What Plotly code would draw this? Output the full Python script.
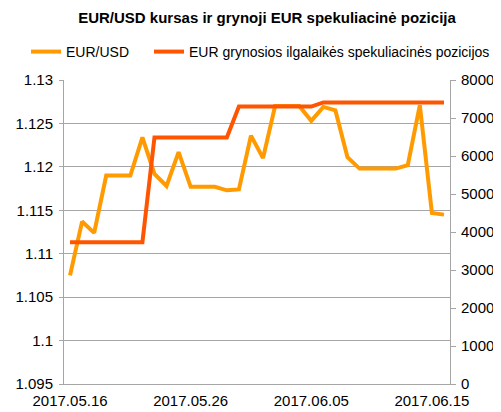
import plotly.graph_objects as go
import pandas as pd

dates = pd.date_range("2017-05-16", "2017-06-16", freq="D").strftime("%Y-%m-%d").tolist()

eurusd = [1.1075, 1.1137, 1.1124, 1.1190, 1.1190, 1.1190, 1.1234, 1.1192,
          1.1178, 1.1217, 1.1177, 1.1177, 1.1177, 1.1173, 1.1174, 1.1236,
          1.1210, 1.1270, 1.1270, 1.1270, 1.1253, 1.1269, 1.1265, 1.1211,
          1.1198, 1.1198, 1.1198, 1.1198, 1.1202, 1.1271, 1.1147, 1.1145]

positions = [37300] * 7 + [64900] * 7 + [73000] * 7 + [74100] * 11

left_ticks = [1.095, 1.1, 1.105, 1.11, 1.115, 1.12, 1.125, 1.13]
left_labels = ["1.095", "1.1", "1.105", "1.11", "1.115", "1.12", "1.125", "1.13"]
x_ticks = ["2017-05-16", "2017-05-26", "2017-06-05", "2017-06-15"]
x_labels = ["2017.05.16", "2017.05.26", "2017.06.05", "2017.06.15"]

font = "Liberation Sans, Arial, sans-serif"
grey = "#A6A6A6"

fig = go.Figure()
fig.add_trace(go.Scatter(x=dates, y=eurusd, name="EUR/USD", mode="lines",
                         line=dict(color="#FF9A00", width=4), legend="legend"))
fig.add_trace(go.Scatter(x=dates, y=positions, name="EUR grynosios ilgalaikės spekuliacinės pozicijos",
                         mode="lines", yaxis="y2", legend="legend2",
                         line=dict(color="#FF5500", width=4)))

leg_common = dict(xref="container", yref="container", xanchor="left",
                  y=1-44/412, yanchor="middle", font=dict(size=14, family=font),
                  itemwidth=30, bgcolor="rgba(0,0,0,0)", borderwidth=0)

fig.update_layout(
    width=501, height=412,
    margin=dict(l=56, r=59, t=72, b=36, autoexpand=False),
    paper_bgcolor="white", plot_bgcolor="white",
    font=dict(family=font, size=15, color="#000000"),
    title=dict(text="<b>EUR/USD kursas ir grynoji EUR spekuliacinė pozicija</b>",
               x=259/501, xanchor="center", y=1-10/412, yanchor="middle",
               font=dict(size=15, family=font)),
    showlegend=True,
    legend=dict(x=18/501, **leg_common),
    legend2=dict(x=141/501, **leg_common),
    xaxis=dict(type="date", range=["2017-05-15 12:00", "2017-06-16 12:00"],
               tickvals=x_ticks, ticktext=x_labels, showgrid=False,
               showline=True, linecolor=grey, linewidth=1, ticks="",
               ticklabelstandoff=3,
               tickfont=dict(size=15), zeroline=False, automargin=False),
    yaxis=dict(range=[1.095, 1.13], tickvals=left_ticks, ticktext=left_labels,
               showgrid=True, gridcolor=grey, gridwidth=1,
               showline=True, linecolor=grey, linewidth=1,
               ticks="outside", ticklen=4, tickcolor=grey, ticklabelstandoff=3,
               tickfont=dict(size=15), zeroline=False, automargin=False),
    yaxis2=dict(range=[0, 80000], dtick=10000, tickformat="d", overlaying="y",
                side="right", showgrid=False, showline=True, linecolor=grey,
                linewidth=1, ticks="outside", ticklen=5, tickcolor=grey,
                ticklabelstandoff=2,
                tickfont=dict(size=15), zeroline=False, automargin=False),
)

fig.write_html("out.html")
